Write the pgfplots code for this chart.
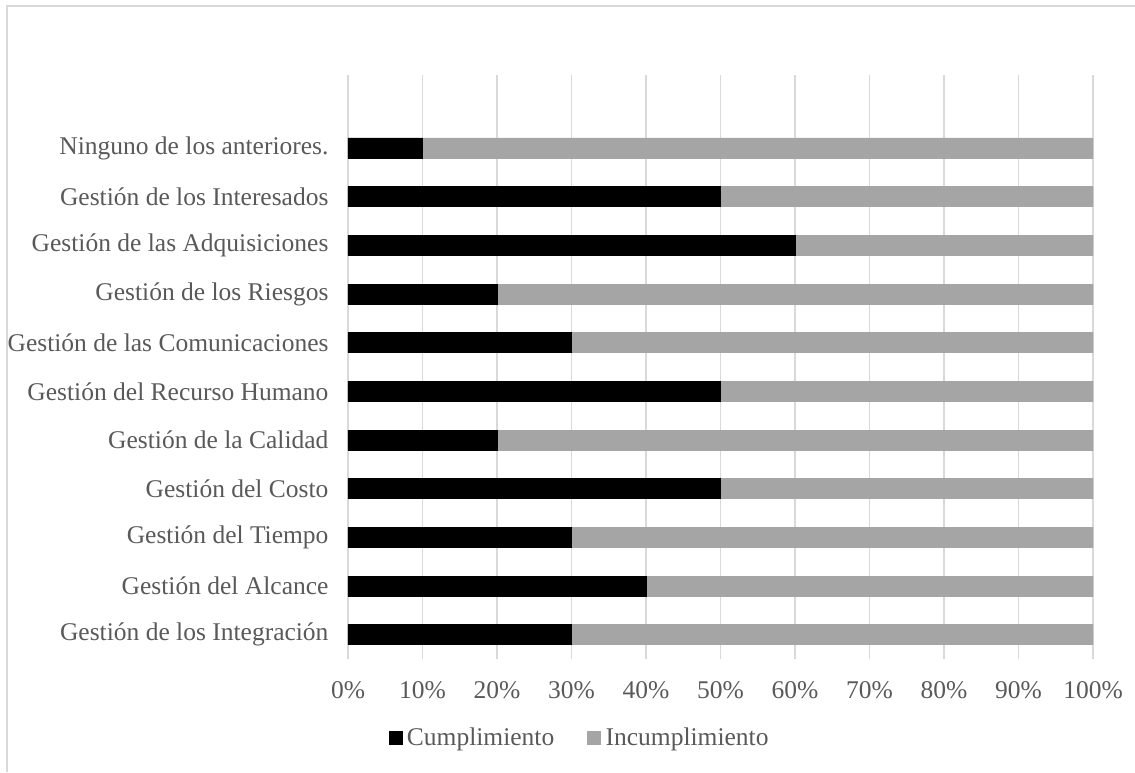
\documentclass[border=0pt]{standalone}
\usepackage{pgfplots}
\pgfplotsset{compat=1.18}
\usepackage{fontspec}
\setmainfont{Liberation Serif}
\definecolor{txt}{HTML}{595959}
\definecolor{grd}{HTML}{D9D9D9}
\definecolor{inc}{HTML}{A5A5A5}
\begin{document}
\begin{tikzpicture}[x=1pt,y=1pt]
\useasboundingbox (0,0) rectangle (1135,772);
\draw[grd,line width=2pt] (7,0) -- (7,766) -- (1135,766);
\begin{axis}[
  at={(348pt,113pt)}, anchor=south west,
  scale only axis, width=745pt, height=584pt,
  xbar stacked, bar width=20pt,
  xmin=0, xmax=100, ymin=-0.5, ymax=11.5,
  xtick={0,10,...,100},
  xticklabel={\pgfmathprintnumber{\tick}\%},
  /pgf/number format/assume math mode=true,
  ytick={0,...,10},
  yticklabels={Gestión de los Integración, Gestión del Alcance, Gestión del Tiempo, Gestión del Costo, Gestión de la Calidad, Gestión del Recurso Humano, Gestión de las Comunicaciones, Gestión de los Riesgos, Gestión de las Adquisiciones, Gestión de los Interesados, Ninguno de los anteriores.},
  xmajorgrids, grid style={grd,line width=1.5pt},
  axis line style={draw=none},
  major tick length=0pt,
  tick label style={font=\fontsize{25.5}{29}\selectfont, text=txt},
  xticklabel style={yshift=-19pt},
  yticklabel style={xshift=-16pt},
  legend style={at={(0.3128,-0.135)}, anchor=center, legend columns=2, draw=none, fill=none,
    font=\fontsize{25.5}{29}\selectfont, text=txt, nodes={inner xsep=5pt},
    /tikz/every even column/.append style={column sep=28pt}},
  legend image code/.code={\fill[#1] (2pt,-6.5pt) rectangle (15pt,6.5pt);},
]
\addplot[fill=black, draw=black] coordinates {(30,0) (40,1) (30,2) (50,3) (20,4) (50,5) (30,6) (20,7) (60,8) (50,9) (10,10)};
\addplot[fill=inc, draw=inc] coordinates {(70,0) (60,1) (70,2) (50,3) (80,4) (50,5) (70,6) (80,7) (40,8) (50,9) (90,10)};
\legend{Cumplimiento, Incumplimiento}
\end{axis}
\end{tikzpicture}
\end{document}
